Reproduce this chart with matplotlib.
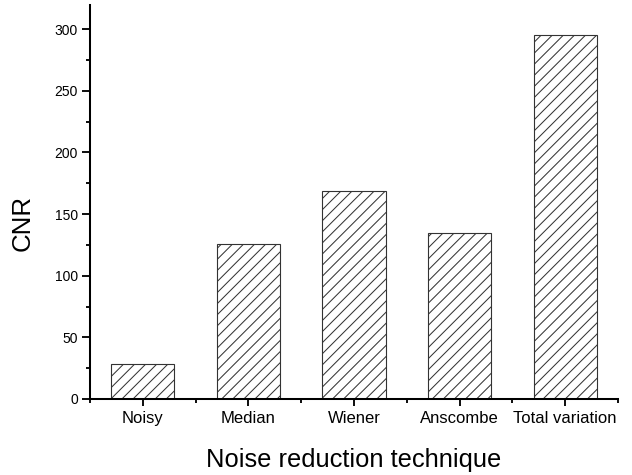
import matplotlib
matplotlib.use('Agg')
import matplotlib.pyplot as plt
from matplotlib.ticker import MultipleLocator, FixedLocator

techniques = ['Noisy', 'Median', 'Wiener', 'Anscombe', 'Total variation']
cnr = [28, 126, 169, 135, 295]

plt.rcParams['font.family'] = ['Liberation Sans', 'DejaVu Sans']
plt.rcParams['hatch.linewidth'] = 0.55

dpi = 133.33
fig = plt.figure(figsize=(632 / dpi, 475 / dpi), dpi=dpi)
ax = fig.add_axes([90 / 632, 1 - 399 / 475, 528 / 632, 394 / 475])

pos = list(range(len(techniques)))
ax.bar(pos, cnr, width=0.6, facecolor='white', edgecolor='#333333',
       linewidth=0.6, hatch='////')

ax.set_xlim(-0.5, 4.5)
ax.set_ylim(0, 319.5)
ax.set_xticks(pos)
ax.set_xticklabels(techniques, fontsize=9)
ax.xaxis.set_minor_locator(FixedLocator([p + 0.5 for p in pos[:-1]] + [-0.5, 4.5]))
ax.yaxis.set_major_locator(MultipleLocator(50))
ax.yaxis.set_minor_locator(MultipleLocator(25))
ax.tick_params(axis='y', which='major', labelsize=7.5, length=4.5, width=1, pad=2)
ax.tick_params(axis='y', which='minor', length=2.2, width=1)
ax.tick_params(axis='x', which='major', length=3.8, width=1, pad=2.5)
ax.tick_params(axis='x', which='minor', length=2.2, width=1)

for s in ['top', 'right']:
    ax.spines[s].set_visible(False)
for s in ['left', 'bottom']:
    ax.spines[s].set_linewidth(1.1)

ax.set_ylabel('CNR', fontsize=14)
ax.yaxis.set_label_coords(-0.105, 0.447)
ax.set_xlabel('Noise reduction technique', fontsize=13.8)
ax.xaxis.set_label_coords(0.5, -0.125)

fig.savefig('out.png', dpi=dpi)
